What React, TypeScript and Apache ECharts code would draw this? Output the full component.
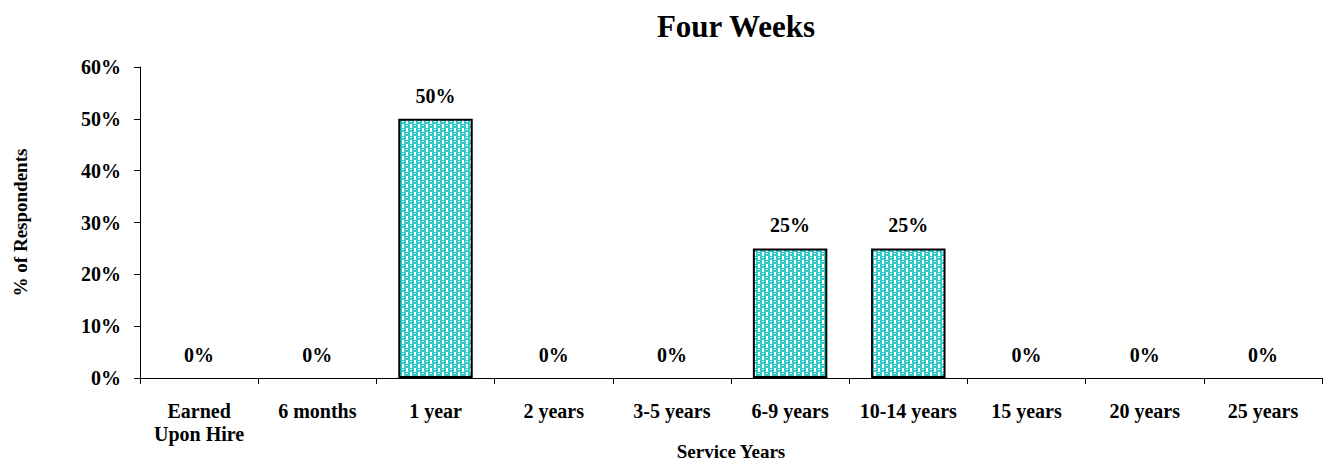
import React, { useEffect, useRef } from "react";
import * as echarts from "echarts";

const categories = [
  "Earned\nUpon Hire",
  "6 months",
  "1 year",
  "2 years",
  "3-5 years",
  "6-9 years",
  "10-14 years",
  "15 years",
  "20 years",
  "25 years",
];
const values = [0, 0, 50, 0, 0, 25, 25, 0, 0, 0];
const titleText = "Four Weeks";
const xName = "Service Years";
const yName = "% of Respondents";

const FONT = '"Liberation Serif", "Times New Roman", serif';

function makePattern(): HTMLCanvasElement {
  const c = document.createElement("canvas");
  c.width = 8;
  c.height = 8;
  const ctx = c.getContext("2d")!;
  ctx.fillStyle = "#ffffff";
  ctx.fillRect(0, 0, 8, 8);
  ctx.fillStyle = "#33CCCC";
  ctx.fillRect(0, 0, 6, 4);
  ctx.fillRect(4, 4, 4, 4);
  ctx.fillRect(0, 4, 2, 4);
  ctx.fillStyle = "#ffffff";
  ctx.fillRect(2, 1, 2, 1);
  ctx.fillRect(6, 5, 2, 1);
  return c;
}

export default function App() {
  const ref = useRef<HTMLDivElement>(null);
  useEffect(() => {
    if (!ref.current) return;
    const chart = echarts.init(ref.current, undefined, { renderer: "svg" });
    const pattern = makePattern();
    chart.setOption({
      animation: false,
      backgroundColor: "#ffffff",
      title: {
        text: titleText,
        left: 731,
        textAlign: "center",
        top: 6,
        textStyle: { fontFamily: FONT, fontWeight: "bold", fontSize: 31, color: "#000" },
      },
      grid: { left: 140, right: 1, top: 67, bottom: 84, outerBoundsMode: "none", containLabel: false },
      xAxis: {
        type: "category",
        data: categories,
        name: xName,
        nameLocation: "middle",
        nameGap: 64,
        nameMoveOverlap: false,
        nameTextStyle: { fontFamily: FONT, fontWeight: "bold", fontSize: 19, color: "#000" },
        axisLine: { lineStyle: { color: "#000", width: 1 } },
        axisTick: { show: true, length: 6, lineStyle: { color: "#000" } },
        axisLabel: {
          interval: 0,
          margin: 21,
          fontFamily: FONT,
          fontWeight: "bold",
          fontSize: 20,
          color: "#000",
          lineHeight: 23,
        },
      },
      yAxis: {
        type: "value",
        min: 0,
        max: 60,
        interval: 10,
        name: yName,
        nameLocation: "middle",
        nameGap: 110,
        nameMoveOverlap: false,
        nameTextStyle: { fontFamily: FONT, fontWeight: "bold", fontSize: 19, color: "#000" },
        axisLine: { show: true, lineStyle: { color: "#000", width: 1 } },
        axisTick: { show: true, length: 6, lineStyle: { color: "#000" } },
        splitLine: { show: false },
        axisLabel: {
          formatter: "{value}%",
          margin: 19,
          fontFamily: FONT,
          fontWeight: "bold",
          fontSize: 20,
          color: "#000",
        },
      },
      series: [
        {
          type: "bar",
          data: values.map((v) =>
            v === 0 ? { value: v, itemStyle: { borderWidth: 0 } } : v
          ),
          barWidth: "63%",
          itemStyle: {
            color: { image: pattern, repeat: "repeat" },
            borderColor: "#000",
            borderWidth: 2,
          },
          label: {
            show: true,
            position: "top",
            distance: 13,
            formatter: "{c}%",
            fontFamily: FONT,
            fontWeight: "bold",
            fontSize: 20,
            color: "#000",
          },
        },
      ],
    });
    return () => chart.dispose();
  }, []);
  return (
    <div
      ref={ref}
      style={{ position: "absolute", left: 0, top: 0, width: 1323, height: 462 }}
    />
  );
}
